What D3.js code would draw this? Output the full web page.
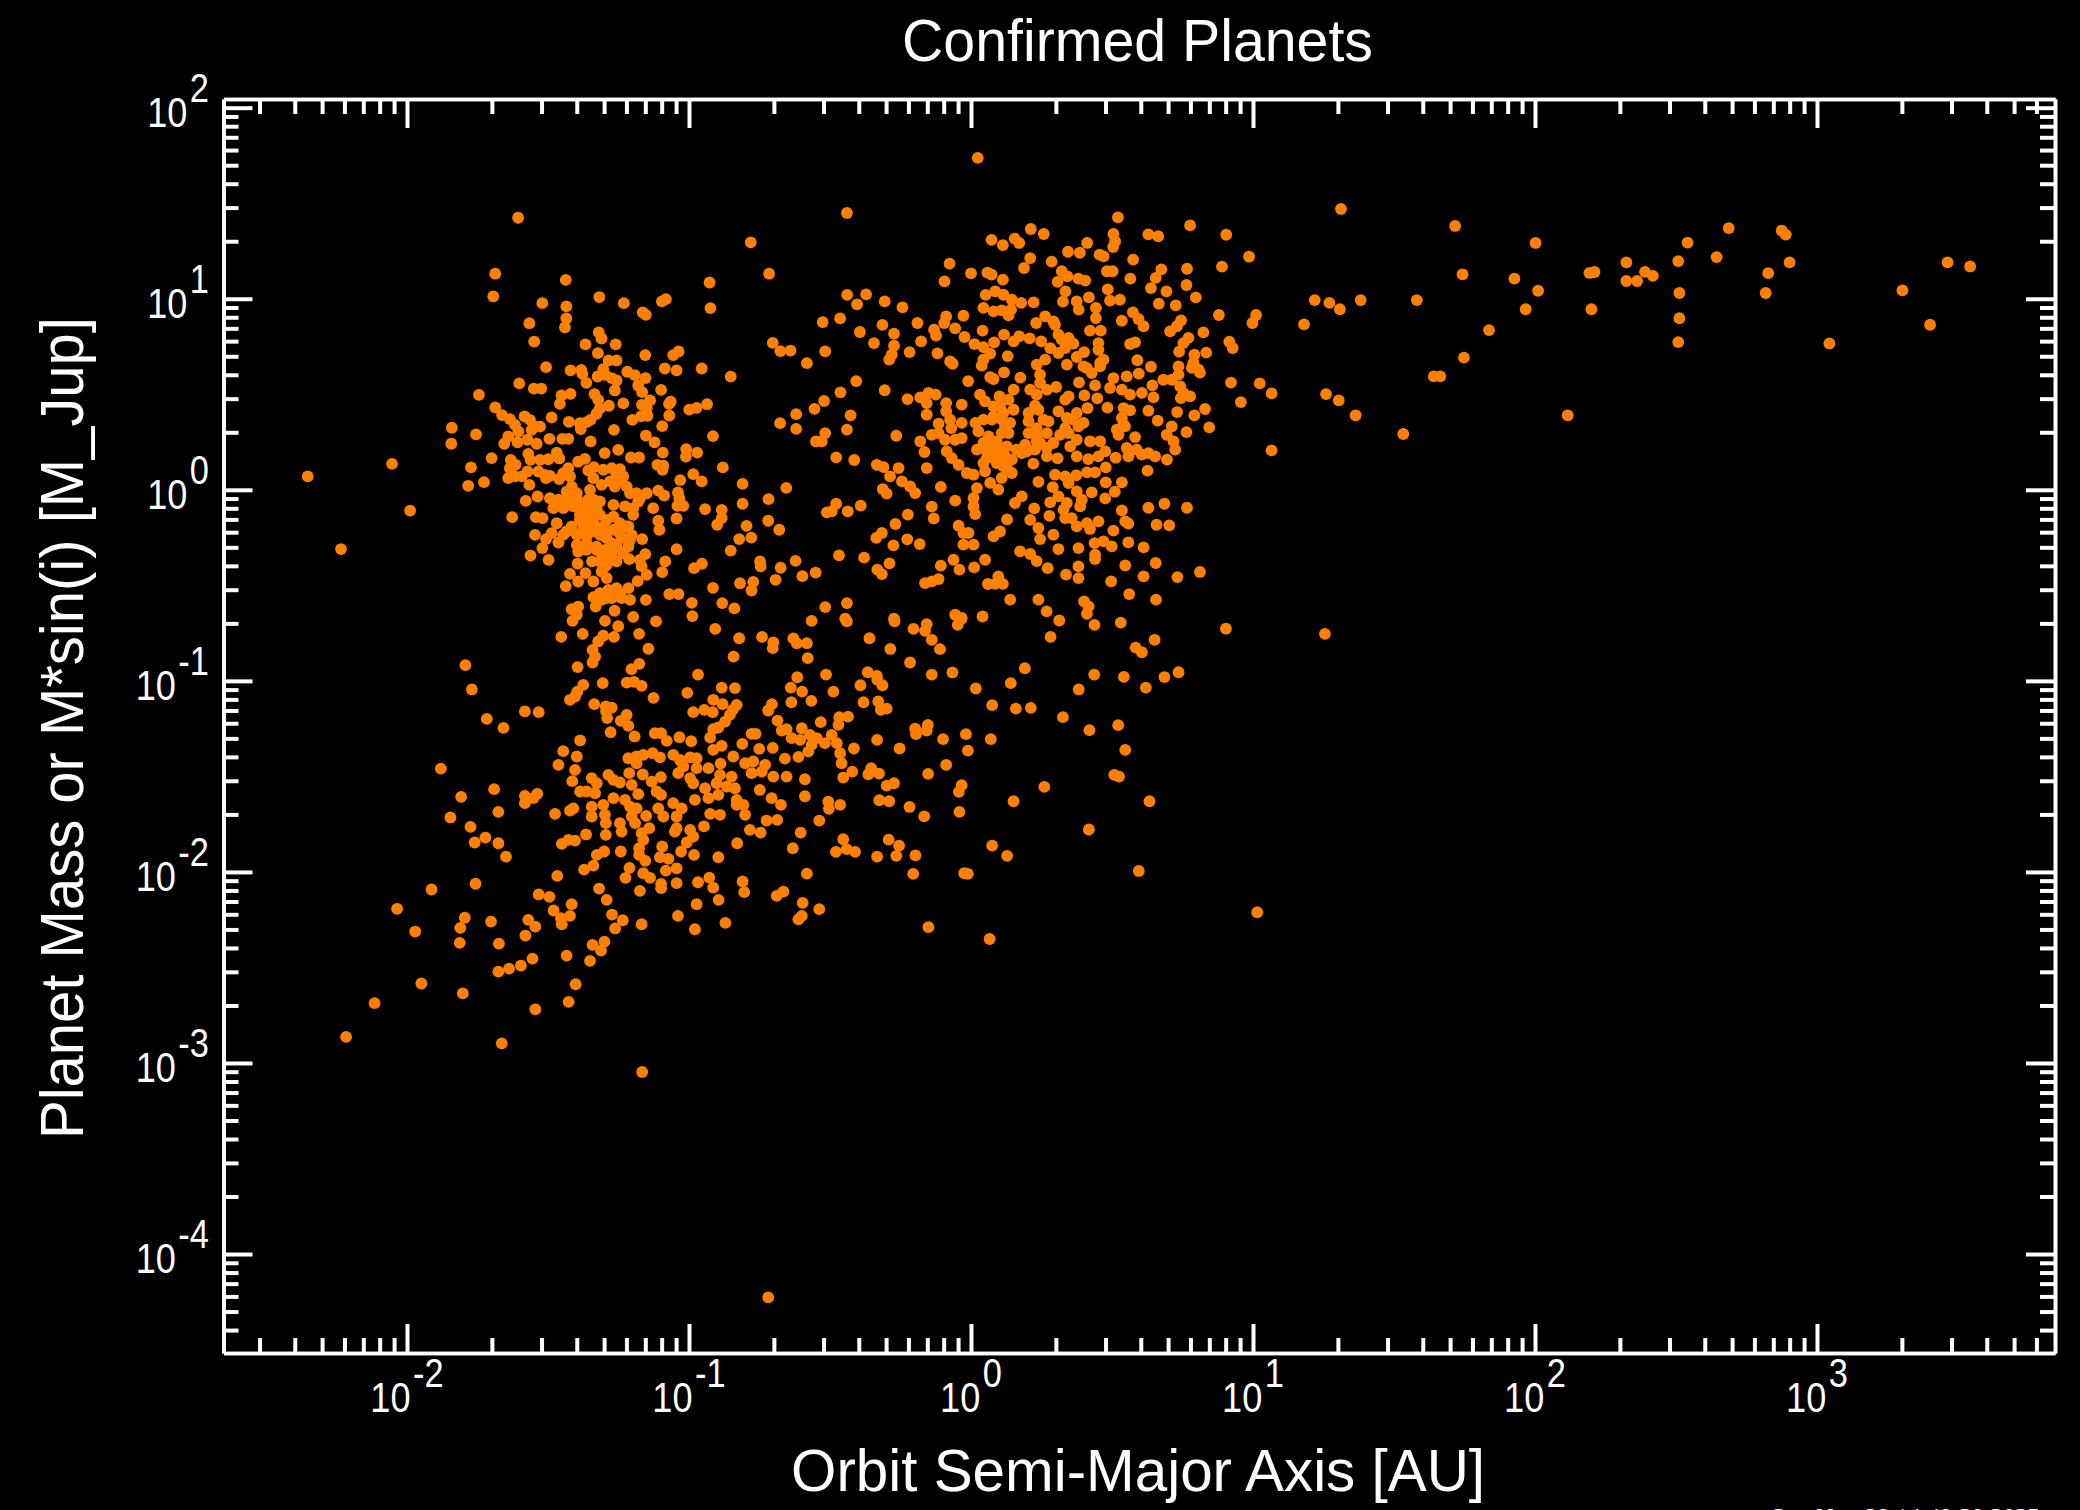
<!DOCTYPE html>
<html><head><meta charset="utf-8">
<script src="https://cdn.jsdelivr.net/npm/d3@7"></script>
<style>html,body{margin:0;padding:0;background:#000;overflow:hidden}svg{display:block}text{font-family:"Liberation Sans",Arial,sans-serif;fill:#fff}</style>
</head><body><div id="c"></div><script>
// All pairs are [log10(semi-major axis / AU), log10(mass / M_Jup)].
const hotGiants=[[-1.687,1.131],[-1.694,1.012],[-1.437,1.099],[-1.52,.977],[-1.435,.96],[-1.318,1.009],[-1.231,.977],[-1.164,.928],[-1.153,.916],[-1.096,.986],[-1.082,.998],[-.927,1.085],[-.924,.951],[-.716,1.131],[-1.435,.897],[-1.44,.85],[-1.566,.872],[-1.549,.776],[-1.32,.824],[-1.31,.792],[-1.367,.761],[-1.26,.761],[-1.323,.715],[-1.155,.705],[-1.056,.705],[-1.037,.724],[-.703,.769],[-.676,.726],[-.64,.729],[-.582,.663],[-1.285,.677],[-1.257,.677],[-1.507,.642],[-1.42,.625],[-1.382,.628],[-1.378,.607],[-1.304,.632],[-1.324,.593],[-1.298,.602],[-1.274,.585],[-1.257,.572],[-1.219,.618],[-1.192,.6],[-1.154,.585],[-1.086,.635],[-1.044,.625],[-.955,.635],[-.852,.592],[-1.602,.557],[-1.55,.53],[-1.524,.53],[-1.364,.56],[-1.263,.52],[-1.18,.546],[-1.166,.511],[-1.099,.523],[-1.745,.497],[-1.452,.494],[-1.42,.502],[-1.458,.45],[-1.335,.501],[-1.322,.471],[-1.233,.452],[-1.138,.468],[-1.167,.445],[-1.15,.427],[-1.065,.462],[-1.071,.45],[-.999,.42],[-.973,.429],[-.936,.448],[-1.284,.44],[-1.316,.427],[-1.328,.398],[-1.349,.366],[-1.363,.354],[-1.387,.349],[-1.687,.431],[-1.663,.391],[-1.635,.37],[-1.583,.384],[-1.564,.366],[-1.528,.331],[-1.487,.379],[-1.426,.356],[-1.384,.318],[-1.07,.389],[-1.201,.366],[-1.17,.384],[-1.147,.387],[-1.095,.333],[-1.266,.314],[-1.841,.325],[-1.843,.241],[-1.755,.29],[-1.617,.34],[-1.605,.305],[-1.558,.314],[-1.546,.331],[-1.641,.279],[-1.655,.241],[-1.608,.248],[-1.573,.262],[-1.54,.241],[-1.495,.267],[-1.449,.267],[-1.428,.267],[-1.349,.253],[-1.153,.284],[-1.122,.248],[-.915,.281],[-.677,.349],[-.62,.396],[-.62,.319],[-.555,.424],[-.55,.253],[-1.299,.192],[-1.251,.209],[-1.093,.195],[-1.01,.213],[-1.011,.174],[-.971,.195],[-1.7,.166],[-1.773,.117],[-1.727,.04],[-1.783,.021],[-1.57,.188],[-1.562,.157],[-1.528,.157],[-1.499,.16],[-1.469,.195],[-1.46,.164],[-1.632,.157],[-1.615,.131],[-1.635,.113],[-1.641,.061],[-1.617,.07],[-1.573,.096],[-1.593,.07],[-1.566,.026],[-1.534,.096],[-1.511,.078],[-1.493,.073],[-1.507,.061],[-1.206,.169],[-1.177,.169],[-1.369,.162],[-1.393,.147],[-1.112,.131],[-1.091,.126],[-1.094,.105],[-.88,.117],[-1.428,.113],[-1.446,.087],[-1.46,.056],[-1.422,.07],[-1.416,.017],[-1.357,.101],[-1.339,.061],[-1.337,.119],[-1.304,.105],[-1.274,.113],[-1.245,.108],[-.985,.082],[-.955,.044],[-1.031,.051],[-.81,.031],[-.655,.01],[-.718,-.049],[-.81,-.073],[-1.233,.07],[-1.28,.044],[-1.31,.026],[-1.263,.017],[-1.221,.017],[-1.186,-.018],[-1.15,-.018],[-1.351,0],[-1.109,-.004],[-1.088,-.03],[-1.039,-.014],[-1.034,-.044],[-1.041,-.084],[-1.02,-.084]];
const hotCore=[[-1.537,-.035],[-1.579,-.058],[-1.493,-.044],[-1.463,-.052],[-1.434,-.052],[-1.398,-.044],[-1.339,-.052],[-1.316,-.061],[-1.268,-.079],[-1.227,-.087],[-1.18,-.061],[-1.198,-.096],[-1.127,-.096],[-1.481,-.096],[-1.446,-.096],[-1.41,-.087],[-1.357,-.105],[-1.328,-.096],[-1.387,-.131],[-.943,-.101],[-.884,-.105],[-.884,-.148],[-.9,-.183],[-.719,-.162],[-.796,-.189],[-.68,-.209],[-.822,-.258],[-.779,-.25],[-.852,-.318],[-1.627,-.143],[-1.543,-.143],[-1.519,-.148],[-1.044,-.15],[-1.109,-.162],[-1.105,-.209],[-1.469,-.175],[-1.487,-.227],[-1.546,-.236],[-1.507,-.258],[-1.446,-.236],[-1.463,-.276],[-1.375,-.175],[-1.339,-.175],[-1.304,-.192],[-1.268,-.14],[-1.245,-.175],[-1.215,-.192],[-1.357,-.209],[-1.398,-.236],[-1.316,-.236],[-1.274,-.279],[-1.239,-.253],[-1.203,-.236],[-1.166,-.258],[-1.215,-.297],[-1.398,-.288],[-1.363,-.279],[-1.328,-.297],[-1.52,-.305],[-1.562,-.344],[-1.498,-.367],[-1.395,-.386],[-1.393,-.323],[-1.344,-.375],[-1.31,-.332],[-1.274,-.332],[-1.257,-.375],[-1.212,-.363],[-1.174,-.367],[-1.155,-.337],[-1.044,-.311],[-1.084,-.375],[-1.095,-.431],[-.954,-.387],[-.982,-.41],[-1.168,-.401],[-1.15,-.445],[-1.182,-.478],[-1.422,-.44],[-1.393,-.48],[-1.367,-.436],[-1.339,-.48],[-1.31,-.428],[-1.292,-.462],[-1.292,-.393],[-1.437,-.504],[-.748,-.375],[-.746,-.401],[-.675,-.408],[-.693,-.471],[-.622,-.372],[-.598,-.452],[-.551,-.433],[-.915,-.513],[-.819,-.489],[-.772,-.482],[-.778,-.527],[-1.257,-.515],[-1.215,-.515],[-1.286,-.524],[-1.339,-.562],[-1.31,-.576],[-1.274,-.567],[-1.239,-.567],[-1.209,-.576],[-1.153,-.576],[-1.331,-.611],[-1.07,-.546],[-1.037,-.546],[-.99,-.592],[-.988,-.661],[-.882,-.593],[-.839,-.621],[-1.393,-.611],[-1.416,-.625],[-1.398,-.654],[-1.413,-.686],[-1.264,-.633],[-1.298,-.686],[-1.198,-.665],[-1.117,-.689],[-1.251,-.714],[-.907,-.728],[-.565,-.686],[-1.453,-.77],[-1.377,-.754],[-1.177,-.754],[-1.266,-.77],[-1.304,-.764],[-1.322,-.794],[-1.342,-.838],[-1.333,-.873],[-1.144,-.832],[-.822,-.777],[-.741,-.77],[-.701,-.799],[-.703,-.829],[-.63,-.778],[-.618,-.803],[-.582,-.803],[-.842,-.873],[-.579,-.881]];
const hotCoreFill=[[-1.475,-.079],[-1.446,-.07],[-1.416,-.079],[-1.387,-.079],[-1.357,-.052],[-1.351,-.14],[-1.375,-.209],[-1.339,-.218],[-1.304,-.218],[-1.268,-.209],[-1.245,-.227],[-1.209,-.262],[-1.363,-.244],[-1.292,-.253],[-1.257,-.297],[-1.298,-.314],[-1.316,-.375],[-1.286,-.375],[-1.304,-.41],[-1.328,-.314],[-1.363,-.314],[-1.233,-.332],[-1.221,-.192],[-1.292,-.157],[-1.387,-.157],[-1.416,-.192],[-1.434,-.218],[-1.257,.087],[-1.251,.044],[-1.209,-.018],[-1.174,-.044],[-1.198,-.131],[-1.316,-.541],[-1.245,-.541],[-1.292,-.567],[-1.398,-.018],[-1.434,-.009],[-1.345,-.105],[-1.316,-.131]];
const coldGiantsUpper=[[.212,1.365],[.258,1.339],[.073,1.308],[.113,1.281],[.155,1.315],[.171,1.292],[.629,1.337],[.664,1.327],[.777,1.384],[.505,1.339],[.511,1.301],[.504,1.271],[.412,1.292],[.344,1.246],[.386,1.241],[.456,1.231],[.47,1.222],[.21,1.213],[.188,1.161],[.286,1.194],[.575,1.205],[-.076,1.184],[-.094,1.091],[0,1.133],[.058,1.137],[.073,1.126],[.113,1.1],[.322,1.144],[.342,1.117],[.307,1.088],[.482,1.144],[.502,1.144],[.565,1.105],[.675,1.154],[.766,1.157],[.655,1.109],[.638,1.056],[.764,1.072],[.797,1.007],[.693,1.039],[.381,1.105],[.405,1.095],[.485,1.049],[.528,.995],[.493,.99],[.418,1.007],[.335,1.039],[.326,.985],[.375,.986],[.382,.943],[.443,.952],[.666,.974],[.726,.965],[.052,1.02],[.086,1.039],[.115,1.021],[.145,.995],[.178,.978],[.222,.981],[.044,.952],[.08,.934],[.109,.939],[.133,.913],[.142,.943],[-.439,1.02],[-.372,1.023],[-.404,.971],[-.306,.986],[-.243,.955],[-.464,.897],[-.526,.878],[-.314,.863],[-.19,.873],[-.394,.826],[-.273,.817],[-.344,.768],[-.273,.754],[-.281,.707],[-.29,.681],[-.218,.721],[-.177,.777],[-.088,.908],[-.095,.873],[-.027,.911],[-.056,.845],[-.131,.838],[-.124,.807],[-.023,.8],[-.119,.714],[-.074,.672],[-.065,.66],[-.517,.725],[.041,.833],[.012,.763],[.044,.747],[.082,.772],[.068,.713],[.044,.681],[.038,.65],[.117,.812],[.151,.777],[.171,.803],[.208,.793],[.249,.777],[.13,.7],[.231,.873],[.263,.908],[.298,.864],[.31,.812],[.346,.795],[.363,.765],[.281,.742],[.31,.716],[.34,.655],[.375,.695],[.401,.721],[.452,.768],[.452,.733],[.233,.655],[.263,.681],[.443,.899],[.422,.833],[.46,.833],[.535,.885],[.574,.929],[.594,.894],[.612,.856],[.706,.829],[.73,.856],[.745,.887],[.564,.763],[.582,.772],[.771,.795],[.753,.768],[.738,.723],[.792,.707],[.789,.664],[.807,.629],[.783,.638],[.47,.681],[.458,.646],[.428,.611],[.411,.637],[.399,.646],[.59,.678],[.638,.644],[.595,.608],[.736,.646],[.736,.603],[.712,.576],[.682,.576],[.068,.59],[.08,.58],[.117,.615],[.175,.587],[-.01,.569],[-.407,.569],[-.306,.521],[-.463,.51],[-.521,.465]];
const coldGiantsMiddle=[[.245,.603],[.245,.559],[.21,.524],[.233,.498],[.269,.524],[.302,.538],[.383,.562],[.44,.547],[.505,.585],[.493,.533],[.552,.594],[.535,.524],[.564,.498],[.606,.507],[.643,.547],[.647,.484],[.742,.541],[.753,.507],[.744,.48],[.777,.489],[.402,.494],[.448,.479],[.484,.43],[-.225,.475],[-.18,.484],[-.151,.507],[-.125,.498],[-.157,.454],[-.157,.393],[-.088,.454],[-.088,.411],[-.074,.367],[-.033,.446],[-.033,.35],[-.07,.323],[.032,.498],[.05,.463],[.08,.437],[.101,.489],[.133,.472],[.151,.524],[.151,.419],[.334,.472],[.346,.489],[.413,.428],[.227,.44],[.204,.402],[.239,.419],[.257,.367],[.275,.358],[.204,.358],[.31,.411],[.34,.376],[.375,.402],[.363,.367],[.399,.35],[.381,.332],[.541,.428],[.564,.416],[.535,.376],[.541,.341],[.517,.315],[.523,.288],[.546,.332],[.629,.414],[.662,.362],[.731,.407],[.792,.39],[.764,.302],[.712,.332],[.694,.288],[.718,.254],[.724,.21],[.695,.158],[.582,.276],[.552,.219],[.588,.21],[.606,.184],[.629,.192],[.653,.175],[.558,.175],[.626,.1],[.016,.35],[.044,.367],[.074,.367],[.109,.367],[.139,.35],[.109,.297],[.133,.297],[.026,.306],[-.115,.346],[-.139,.288],[-.115,.297],[-.092,.262],[-.056,.262],[-.033,.271],[-.265,.283],[-.18,.254],[-.165,.198],[-.44,.315],[-.517,.297],[-.529,.254],[-.427,.39],[.204,.297],[.233,.28],[.269,.297],[.316,.288],[.346,.297],[.375,.262],[.292,.245],[.269,.219],[.245,.245],[.062,.28],[.044,.245],[.08,.245],[.021,.21],[.056,.201],[.091,.192],[.127,.227],[.162,.21],[.198,.201],[.227,.21],[.121,.175],[.091,.14],[.145,.158],[.08,.175],[.044,.14],[.352,.227],[.375,.175],[.307,.165],[.269,.175],[.221,.137],[.422,.254],[.458,.254],[.476,.201],[.416,.161],[.452,.175],[.513,.168],[.478,.117],[-.086,.201],[-.068,.166],[-.044,.131],[-.015,.088],[.009,.079],[.05,.097],[-.157,.114],[-.478,.17],[-.414,.156],[-.334,.131],[-.31,.119],[-.287,.07],[-.257,.114],[-.245,.044],[-.216,.018],[-.198,-.017],[-.313,.004],[-.299,-.02]];
const coldCoreFill=[[.068,.227],[.091,.254],[.109,.21],[.056,.166],[.103,.158],[.127,.114],[.192,.236],[.233,.254],[.18,.192],[.103,.437],[.115,.402],[.08,.384],[.121,.332],[.233,.323],[.334,.323],[.458,.664],[.292,.882],[.322,.786],[.334,.742]];
const coldGiantsLower=[[-.107,.015],[-.056,-.057],[-.139,-.088],[-.132,-.15],[.021,.009],[.009,-.043],[.009,-.087],[.015,-.127],[.068,.036],[.097,.001],[.109,.062],[.145,.088],[.239,.042],[.115,.123],[.156,-.069],[.18,-.034],[.128,-.155],[.224,-.097],[.298,.079],[.334,.07],[.373,.076],[.346,.035],[.411,.091],[.44,.091],[.29,.014],[.31,-.034],[.281,-.066],[.34,-.069],[.328,-.104],[.334,-.148],[.278,-.136],[.375,-.008],[.393,-.052],[.387,-.087],[.428,-.013],[.478,.039],[.535,.039],[.51,-.01],[.476,-.045],[.535,-.108],[.547,-.165],[.558,-.177],[.629,-.094],[.686,-.073],[.766,-.094],[.658,-.183],[.703,-.186],[.357,-.148],[.375,-.191],[.411,-.174],[.422,-.205],[.452,-.165],[.505,-.214],[.21,-.157],[.239,-.2],[.292,-.235],[.245,-.258],[.31,-.31],[-.044,-.188],[-.027,-.226],[-.009,-.226],[-.027,-.287],[.009,-.287],[.08,-.244],[.103,-.218],[-.224,-.13],[-.268,-.179],[-.316,-.226],[-.336,-.252],[-.226,-.259],[-.182,-.284],[-.275,-.291],[-.478,-.073],[-.511,-.118],[-.494,-.113],[-.437,-.113],[-.391,-.083],[-.468,-.343],[-.379,-.355],[-.289,-.385],[-.332,-.418],[-.316,-.441],[.174,-.322],[.21,-.336],[.233,-.373],[.272,-.41],[.381,-.305],[.438,-.279],[.47,-.27],[.499,-.296],[.44,-.34],[.44,-.362],[.558,-.275],[.612,-.301],[-.062,-.366],[-.107,-.397],[-.041,-.418],[.011,-.406],[.05,-.366],[.381,-.401],[.381,-.462],[.337,-.444],[.547,-.396],[.655,-.383],[.612,-.453],[.732,-.457],[-.163,-.488],[-.139,-.479],[-.115,-.467],[.097,-.453],[.06,-.493],[.086,-.492],[.113,-.492],[.497,-.479],[.139,-.575],[.239,-.575],[.268,-.636],[.401,-.584],[.417,-.61],[.411,-.649],[.561,-.546],[.656,-.575],[-.44,-.593],[-.517,-.614],[-.056,-.654],[-.033,-.671],[.041,-.663],[-.446,-.675],[-.273,-.675]];
const midPlanets=[[-.271,-.688],[-.204,-.728],[-.157,-.703],[-.163,-.738],[-.139,-.785],[-.11,-.834],[-.047,-.707],[-.035,-.677],[.313,-.684],[.438,-.707],[.531,-.695],[.282,-.77],[-.44,-.689],[-.36,-.777],[-.286,-.833],[-.216,-.904],[.651,-.785],[.584,-.826],[.606,-.85],[.191,-.934],[.141,-1.012],[.017,-1.04],[-.066,-.956],[-.139,-.967],[-.366,-.955],[-.334,-.974],[-.332,-.995],[-.314,-1.023],[-.392,-1.023],[-.381,-1.112],[-.329,-1.108],[-.32,-1.152],[-.299,-1.145],[.075,-1.127],[.159,-1.145],[.212,-1.141],[.382,-1.045],[.437,-.967],[.542,-.979],[.62,-1.035],[.686,-.98],[.736,-.955],[.326,-1.19],[.42,-1.258],[.522,-1.232],[.547,-1.361],[-.198,-1.25],[-.195,-1.279],[-.157,-1.26],[-.153,-1.23],[-.099,-1.305],[-.018,-1.279],[.07,-1.305],[-.011,-1.365],[-.253,-1.354],[-.333,-1.309],[-.088,-1.44],[-.152,-1.487],[-.326,-1.485],[-.354,-1.457],[-.364,-1.489],[-.273,-1.536],[-.299,-1.548],[-.033,-1.546],[-.043,-1.581],[.26,-1.555],[.508,-1.492],[.525,-1.501],[.151,-1.63],[.633,-1.63],[-.325,-1.625],[-.29,-1.63],[-.218,-1.66],[-.166,-1.709],[-.041,-1.686],[.418,-1.778],[-.292,-1.831],[-.255,-1.862],[.075,-1.862],[.128,-1.916],[-.333,-1.92],[-.265,-1.916],[-.197,-1.913],[-.205,-2.01],[-.024,-2.007],[-.011,-2.01],[.595,-1.995],[1.255,-.754],[.904,-.727],[1.015,-2.211],[.066,-2.351],[-.151,-2.289]];
const wideOrbits=[[1.312,1.47],[1.717,1.381],[2.002,1.292],[.905,1.335],[.986,1.22],[.89,1.168],[1.743,1.128],[1.927,1.105],[2.193,1.135],[2.211,1.14],[2.011,1.042],[1.219,.993],[1.271,.978],[1.308,.945],[1.382,.993],[1.581,.993],[1.967,.945],[2.2,.945],[.879,.915],[1.011,.915],[.998,.873],[1.181,.866],[.824,.824],[1.837,.836],[.916,.775],[.928,.742],[.834,.718],[1.748,.692],[.812,.613],[.922,.561],[1.024,.557],[1.066,.505],[1.641,.594],[1.664,.594],[.957,.459],[1.259,.501],[1.304,.468],[1.364,.39],[2.116,.39],[.83,.423],[.845,.327],[1.066,.206],[1.533,.292],[.812,-.43],[2.324,1.19],[2.324,1.093],[2.362,1.093],[2.39,1.141],[2.418,1.12],[2.508,1.197],[2.541,1.294],[2.644,1.218],[2.687,1.37],[2.512,1.03],[2.512,.898],[2.508,.773],[2.818,1.03],[2.827,1.134],[2.875,1.357],[2.889,1.336],[2.903,1.19],[3.044,.766],[3.303,1.044],[3.401,.864],[3.463,1.19],[3.543,1.169],[-.781,1.295],[-.44,1.449],[.024,1.737],[.521,1.426],[-1.606,1.424]];
const lowMassLeft=[[-2.352,.07],[-2.234,-.31],[-2.053,.136],[-1.989,-.109],[-1.793,-.918],[-1.77,-1.045],[-1.88,-1.459],[-1.808,-1.607],[-1.846,-1.715],[-1.775,-1.764],[-1.76,-1.846],[-1.913,-2.092],[-1.757,-2.062],[-2.035,-2.193],[-1.971,-2.312],[-1.795,-2.24],[-1.811,-2.293],[-1.813,-2.371],[-1.949,-2.584],[-1.802,-2.636],[-2.115,-2.687],[-2.216,-2.863],[-1.166,-3.047],[-.719,-4.227]];
const lowMassA=[[-1.395,-.928],[-1.342,-.904],[-1.204,-.939],[-1.176,-.911],[-1.306,-1.012],[-1.221,-1.009],[-1.195,-1.005],[-1.168,-1.026],[-1.375,-1.021],[-1.396,-1.056],[-1.422,-1.099],[-1.404,-1.082],[-.968,-.967],[-1.006,-1.063],[-1.126,-1.089],[-.884,-1.035],[-.837,-1.038],[-.616,-.981],[-.514,-.967],[-.639,-1.035],[-.599,-1.056],[-.488,-1.056],[-.637,-1.112],[-.566,-1.105],[-1.336,-1.122],[-1.295,-1.134],[-1.274,-1.14],[-1.294,-1.16],[-1.29,-1.195],[-1.582,-1.16],[-1.533,-1.164],[-1.717,-1.199],[-1.658,-1.246],[-.914,-1.099],[-.881,-1.122],[-.946,-1.152],[-.985,-1.164],[-.916,-1.164],[-.831,-1.126],[-.845,-1.152],[-.855,-1.178],[-.706,-1.122],[-.719,-1.155],[-.686,-1.208],[-.533,-1.216],[-.436,-1.187],[-.467,-1.19],[-1.221,-1.178],[-1.242,-1.209],[-1.215,-1.236],[-.872,-1.213],[-.896,-1.244],[-.914,-1.253],[-.925,-1.297],[-.914,-1.361],[-1.278,-1.269],[-1.193,-1.291],[-1.121,-1.274],[-1.099,-1.274],[-1.079,-1.314],[-1.034,-1.295],[-.992,-1.316],[-.778,-1.277],[-.764,-1.277],[-.811,-1.33],[-.751,-1.356],[-.703,-1.351],[-.671,-1.26],[-.654,-1.253],[-.6,-1.248],[-.636,-1.3],[-.606,-1.309],[-.571,-1.283],[-.547,-1.3],[-.518,-1.326],[-.577,-1.37],[-.565,-1.335],[-.494,-1.283],[-.476,-1.326],[-.464,-1.379],[-.459,-1.431],[-.47,-1.23],[-.415,-1.354],[-.66,-1.407],[-.612,-1.398],[-1.386,-1.312],[-1.446,-1.368],[-1.398,-1.396],[-1.463,-1.44],[-1.404,-1.466],[-1.414,-1.525],[-1.215,-1.405],[-1.186,-1.396],[-1.162,-1.387],[-1.129,-1.379],[-1.103,-1.4],[-1.186,-1.431],[-1.056,-1.387],[-1.032,-1.414],[-.996,-1.4],[-.973,-1.405],[-1.02,-1.448],[-1.038,-1.483],[-.996,-1.509],[-.973,-1.457],[-.931,-1.457],[-.89,-1.492],[-.849,-1.501],[-.884,-1.34],[-.843,-1.396],[-.888,-1.433],[-.801,-1.431],[-.772,-1.422],[-.73,-1.44],[-.778,-1.483],[-.742,-1.475],[-.701,-1.501],[-.654,-1.501],[-.589,-1.515],[-.421,-1.475],[-.453,-1.506]];
const lowMassB=[[-1.345,-1.509],[-1.327,-1.536],[-1.386,-1.579],[-1.363,-1.579],[-1.333,-1.588],[-1.286,-1.492],[-1.268,-1.518],[-1.245,-1.532],[-1.212,-1.483],[-1.164,-1.49],[-1.132,-1.527],[-1.1,-1.504],[-1.115,-1.579],[-1.099,-1.597],[-1.203,-1.544],[-1.18,-1.593],[-.985,-1.536],[-.943,-1.562],[-.902,-1.536],[-.866,-1.553],[-.837,-1.562],[-.831,-1.623],[-.931,-1.614],[-.896,-1.597],[-.979,-1.623],[-.807,-1.649],[-.831,-1.649],[-.749,-1.571],[-.589,-1.604],[-.707,-1.614],[-.674,-1.649],[-1.691,-1.567],[-1.582,-1.602],[-1.582,-1.64],[-1.552,-1.614],[-1.538,-1.591],[-1.676,-1.686],[-1.722,-1.82],[-1.676,-1.85],[-1.649,-1.92],[-1.475,-1.696],[-1.422,-1.679],[-1.41,-1.667],[-1.345,-1.658],[-1.345,-1.71],[-1.304,-1.649],[-1.268,-1.614],[-1.227,-1.623],[-1.298,-1.701],[-1.295,-1.745],[-1.295,-1.806],[-1.209,-1.658],[-1.186,-1.667],[-1.203,-1.71],[-1.191,-1.745],[-1.152,-1.707],[-1.245,-1.745],[-1.239,-1.789],[-1.141,-1.771],[-1.168,-1.797],[-1.162,-1.832],[-1.109,-1.667],[-1.091,-1.71],[-1.056,-1.64],[-1.026,-1.667],[-1.044,-1.71],[-1.044,-1.771],[-1.05,-1.789],[-.996,-1.78],[-.985,-1.815],[-.947,-1.762],[-1.008,-1.846],[-.925,-1.696],[-.89,-1.701],[-.801,-1.701],[-.725,-1.731],[-.687,-1.728],[-.784,-1.78],[-.746,-1.794],[-.538,-1.731],[-.604,-1.794],[-.464,-1.649],[-.506,-1.632],[-.504,-1.67],[-1.365,-1.804],[-1.451,-1.853],[-1.428,-1.832],[-1.404,-1.836]];
const lowMassC=[[-1.301,-1.893],[-1.327,-1.911],[-1.242,-1.893],[-1.177,-1.876],[-1.177,-1.911],[-1.155,-1.942],[-1.095,-1.867],[-1.103,-1.923],[-1.073,-1.932],[-1.028,-1.893],[-.982,-1.911],[-.896,-1.923],[-.829,-1.85],[-.632,-1.876],[-.453,-1.829],[-.479,-1.895],[-.441,-1.881],[-.411,-1.895],[-1.339,-1.967],[-1.372,-1.988],[-1.211,-1.979],[-1.225,-2.031],[-1.467,-2.021],[-1.162,-2.007],[-1.138,-2.031],[-1.082,-1.993],[-1.044,-1.981],[-1.099,-2.063],[-1.099,-2.085],[-1.044,-2.059],[-1.174,-2.099],[-.968,-2.054],[-.928,-2.03],[-.914,-2.082],[-.81,-2.05],[-.804,-2.106],[-.582,-2.009],[-.689,-2.125],[-.665,-2.103],[-1.319,-2.087],[-1.292,-2.146],[-1.533,-2.118],[-1.495,-2.131],[-1.416,-2.169],[-1.48,-2.202],[-1.422,-2.23],[-1.454,-2.242],[-1.451,-2.274],[-.973,-2.169],[-.895,-2.146],[-.597,-2.162],[-.538,-2.195],[-.6,-2.23],[-.612,-2.248],[-1.273,-2.223],[-1.235,-2.253],[-1.262,-2.296],[-1.168,-2.274],[-1.039,-2.23],[-.979,-2.3],[-.871,-2.267],[-1.57,-2.251],[-1.545,-2.286],[-1.58,-2.333],[-1.702,-2.26],[-1.674,-2.375],[-1.342,-2.382],[-1.3,-2.365],[-1.312,-2.412],[-1.434,-2.438],[-1.351,-2.466],[-1.555,-2.454],[-1.596,-2.49],[-1.638,-2.506],[-1.676,-2.522],[-1.402,-2.588],[-1.427,-2.68],[-1.545,-2.719],[-1.664,-2.897]];

const xExponents=[-2,-1,0,1,2,3];
const yExponents=[2,1,0,-1,-2,-3,-4];
const titleText="Confirmed Planets";
const xLabelText="Orbit Semi-Major Axis [AU]";
const yLabelText="Planet Mass or M*sin(i) [M_Jup]";
const dateText="Sun Nov 29 14:49:39 2025";

const points=[...hotGiants,...hotCore,...hotCoreFill,...coldGiantsUpper,...coldGiantsMiddle,...coldCoreFill,...coldGiantsLower,...midPlanets,...wideOrbits,...lowMassLeft,...lowMassA,...lowMassB,...lowMassC];

const W=2080,H=1510,L=223.5,R=2055,T=99,B=1353;
const x=d3.scaleLog().domain([Math.pow(10,-2.6507),Math.pow(10,3.844)]).range([L,R]);
const y=d3.scaleLog().domain([Math.pow(10,-4.518),Math.pow(10,2.0455)]).range([B,T]);
const svg=d3.select("#c").append("svg").attr("width",W).attr("height",H).style("background","#000");

function minors(s){const [a,b]=s.domain();const out=[];
  for(let e=Math.floor(Math.log10(a));e<=Math.ceil(Math.log10(b));e++)
    for(let k=2;k<=9;k++){const v=k*Math.pow(10,e);if(v>a&&v<b)out.push(v);}
  return out;}
const xMaj=xExponents.map(e=>Math.pow(10,e)),yMaj=yExponents.map(e=>Math.pow(10,e));

function drawAxis(gen,tx,ty,maj,min){
  const g=svg.append("g").attr("transform",`translate(${tx},${ty})`);
  g.append("g").call(gen.tickValues(min).tickSize(15).tickSizeOuter(0).tickFormat(""));
  g.append("g").call(gen.tickValues(maj).tickSize(29).tickSizeOuter(0).tickFormat(""));
  g.selectAll("path").attr("stroke","#fff").attr("stroke-width",3.6).attr("fill","none");
  g.selectAll("line").attr("stroke","#fff").attr("stroke-width",4);
}
drawAxis(d3.axisTop(x),0,B,xMaj,minors(x));
drawAxis(d3.axisBottom(x),0,T,xMaj,minors(x));
drawAxis(d3.axisRight(y),L,0,yMaj,minors(y));
drawAxis(d3.axisLeft(y),R,0,yMaj,minors(y));

function powLabel(sel,e){
  sel.append("tspan").attr("font-size",43).text("10");
  sel.append("tspan").attr("font-size",41).attr("dy",-25).attr("dx",3).text(String(e));
}
svg.append("g").selectAll("text").data(xExponents).join("text")
  .attr("text-anchor","middle")
  .attr("transform",e=>`translate(${x(Math.pow(10,e))},1412) scale(.84,1)`)
  .each(function(e){powLabel(d3.select(this),e);});
svg.append("g").selectAll("text").data(yExponents).join("text")
  .attr("text-anchor","end")
  .attr("transform",e=>`translate(209,${y(Math.pow(10,e))+19}) scale(.84,1)`)
  .each(function(e){powLabel(d3.select(this),e);});

svg.append("g").selectAll("circle").data(points).join("circle")
  .attr("cx",d=>x(Math.pow(10,d[0]))).attr("cy",d=>y(Math.pow(10,d[1])))
  .attr("r",5.9).attr("fill","#ff8000");

function label(text,size,len){
  return svg.append("text").attr("font-size",size).attr("text-anchor","middle")
    .attr("textLength",len).attr("lengthAdjust","spacingAndGlyphs").text(text);
}
label(titleText,59,471).attr("x",1137.5).attr("y",61);
label(xLabelText,60,694).attr("x",1138).attr("y",1491);
label(yLabelText,61,822).attr("transform","translate(83,728) rotate(-90)");
svg.append("text").attr("x",1771).attr("y",1524).attr("font-size",24)
  .attr("textLength",269).attr("lengthAdjust","spacingAndGlyphs")
  .style("font-family","'Liberation Serif',serif").text(dateText);
</script></body></html>
